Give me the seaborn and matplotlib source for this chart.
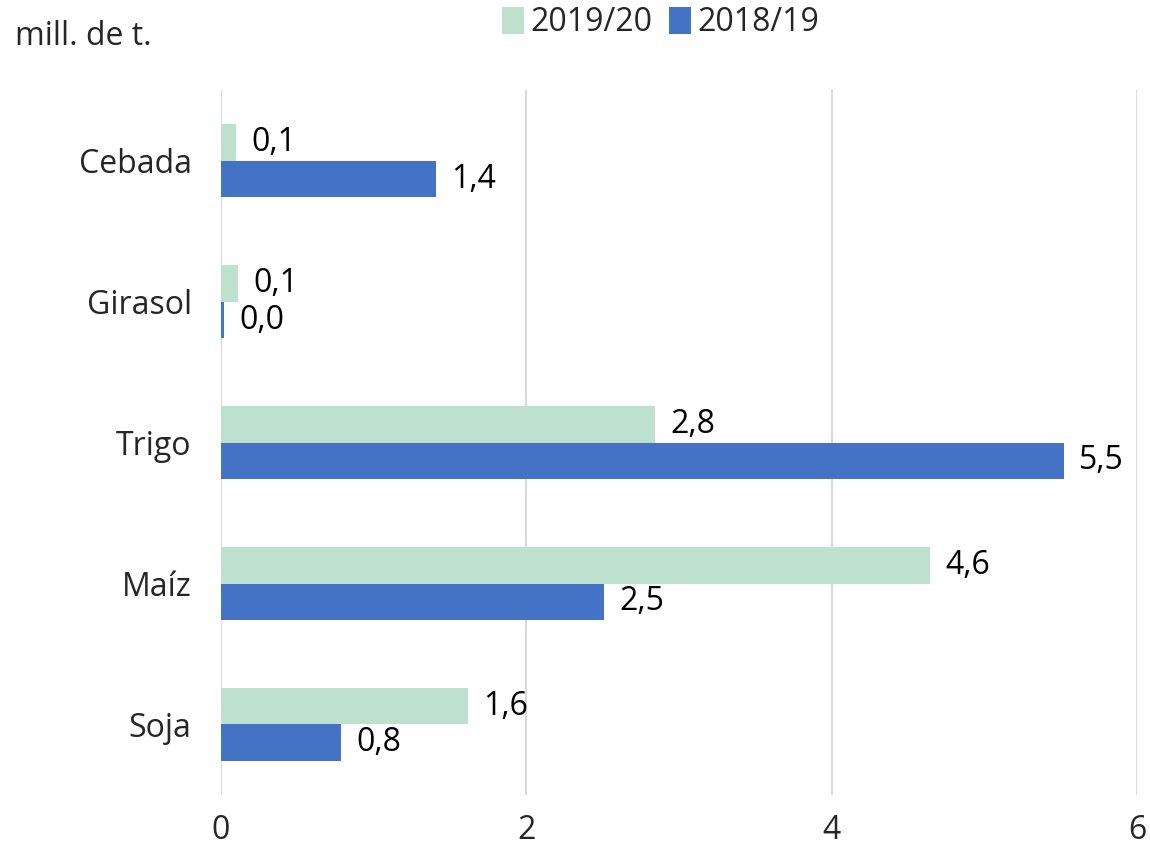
import matplotlib
matplotlib.use('Agg')
import matplotlib.pyplot as plt
import seaborn as sns
import pandas as pd

categorias = ['Cebada', 'Girasol', 'Trigo', 'Maíz', 'Soja']
campana_1920 = [0.10, 0.11, 2.84, 4.64, 1.62]
campana_1819 = [1.41, 0.02, 5.52, 2.51, 0.79]
series = ['2019/20', '2018/19']
x_ticks = [0, 2, 4, 6]

df = pd.DataFrame({
    'cultivo': categorias * 2,
    'valor': campana_1920 + campana_1819,
    'campana': [series[0]] * len(categorias) + [series[1]] * len(categorias),
})

sns.set_theme(style='white')
plt.rcParams['font.family'] = ['Open Sans', 'DejaVu Sans']
fs = 23

fig, ax = plt.subplots(figsize=(11.5, 8.52), dpi=100)
sns.barplot(data=df, y='cultivo', x='valor', hue='campana', hue_order=series,
            order=categorias, palette=['#BDE0CF', '#4472C4'], orient='h',
            width=0.52, gap=0, saturation=1, errorbar=None, linewidth=0, ax=ax)

for cont in ax.containers:
    ax.bar_label(cont, labels=[f'{v:.1f}'.replace('.', ',') for v in cont.datavalues],
                 padding=11, fontsize=fs, color='#000000')

ax.set_xlim(0, 6)
ax.set_ylim(4.5, -0.5)
ax.set_xticks(x_ticks)
ax.set_xticklabels([str(t) for t in x_ticks])
ax.tick_params(axis='x', labelsize=fs, pad=14, length=0)
ax.tick_params(axis='y', labelsize=fs, pad=21, length=0)
ax.grid(axis='x', color='#D9D9D9', linewidth=1.5)
ax.set_axisbelow(True)
for s in ax.spines.values():
    s.set_visible(False)
ax.set_xlabel('')
ax.set_ylabel('')

ax.legend(loc='upper center', bbox_to_anchor=(0.48, 1.16), ncol=2, frameon=False,
          fontsize=fs, handlelength=0.7, handleheight=0.9, handletextpad=0.2,
          columnspacing=0.5)
fig.text(0.013, 0.957, 'mill. de t.', fontsize=fs, va='center', ha='left')

fig.subplots_adjust(left=0.192, right=0.989, top=0.894, bottom=0.067)
fig.savefig('out.png', dpi=100)
